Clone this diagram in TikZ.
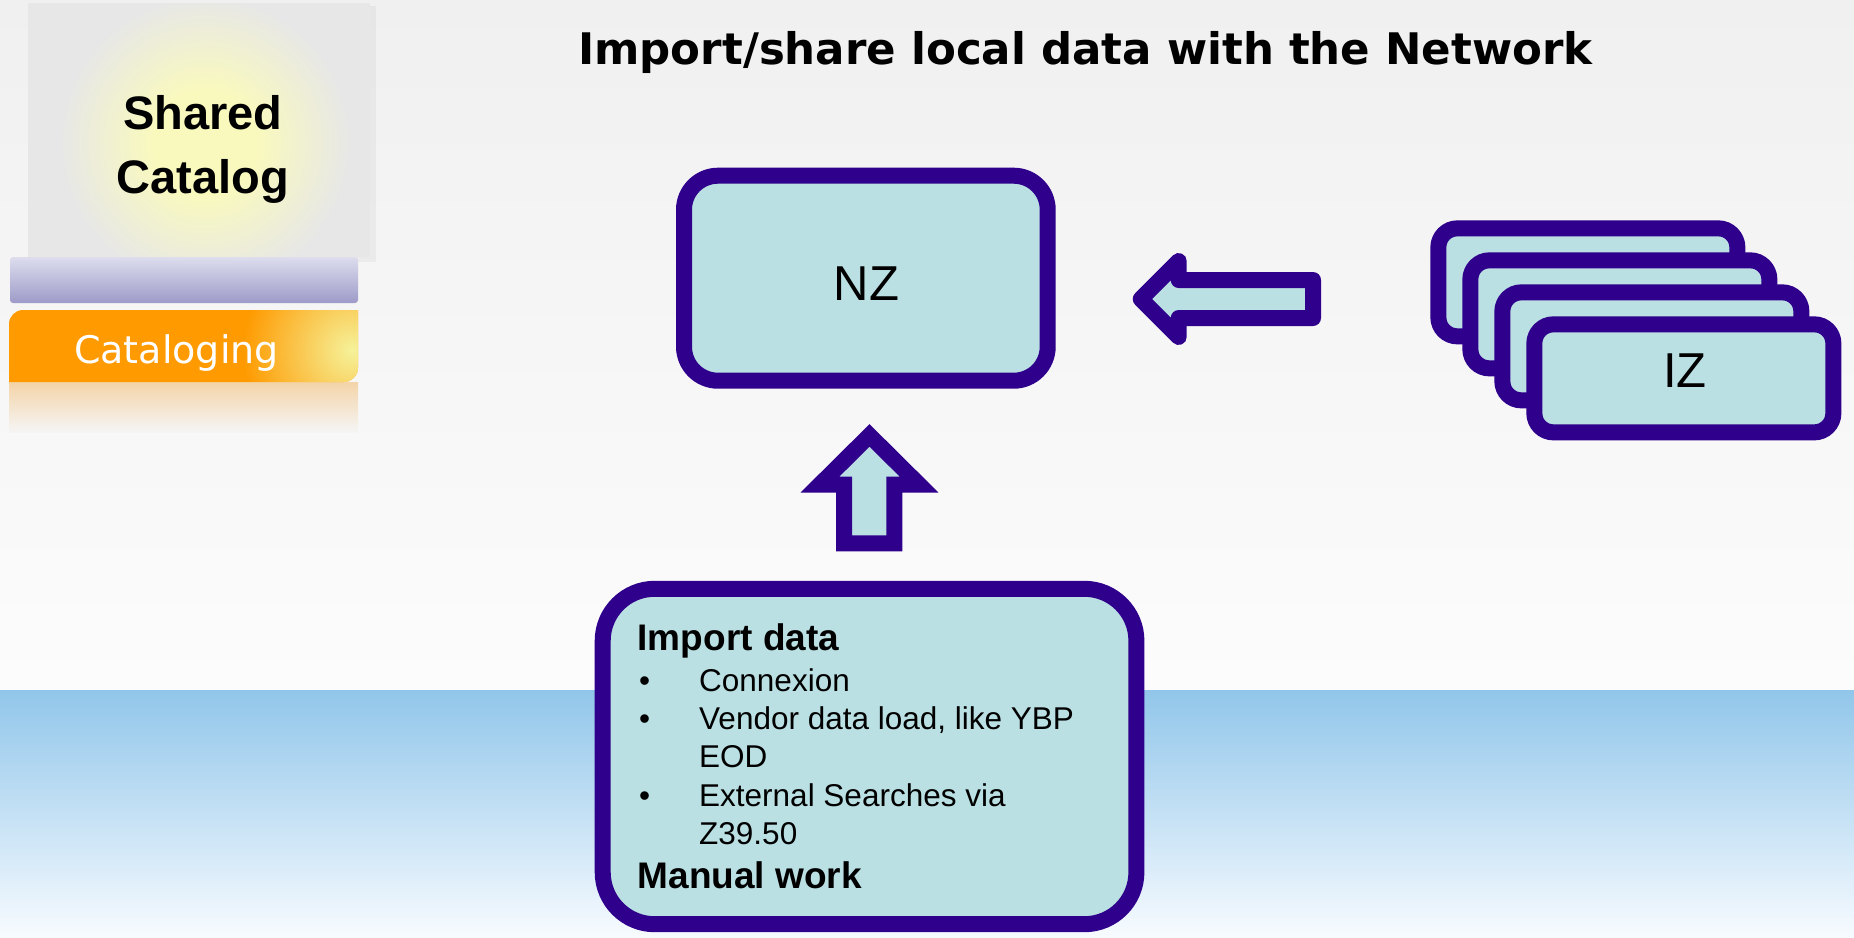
\documentclass[tikz,border=0pt]{standalone}
\usepackage{fontspec}
\setmainfont{Liberation Sans}
\newfontfamily\verd{DejaVu Sans}
\usetikzlibrary{fadings}
\tikzfading[name=glowfade, inner color=transparent!0, outer color=transparent!100]
\definecolor{zfill}{HTML}{BAE0E3}
\definecolor{zline}{HTML}{2E008C}
\definecolor{bgtop}{HTML}{F0F0F0}
\definecolor{bgbot}{HTML}{FCFCFC}
\definecolor{bltop}{HTML}{91C6EA}
\definecolor{blbot}{HTML}{F7FBFF}
\definecolor{logogray}{HTML}{E7E7E7}
\definecolor{glowc}{HTML}{F9F9BE}
\definecolor{lavtop}{HTML}{DDDDEE}
\definecolor{lavbot}{HTML}{9D9BC8}
\definecolor{omain}{HTML}{FF9A00}
\definecolor{odark}{HTML}{C86C00}
\definecolor{oglow}{HTML}{F6F29A}
\definecolor{refl}{HTML}{F4D4A8}
\pgfdeclareverticalshading{obar}{100bp}{color(0bp)=(odark); color(14bp)=(omain); color(86bp)=(omain); color(100bp)=(odark)}
\pgfdeclareradialshading{glowsh}{\pgfpoint{0bp}{0bp}}{color(0bp)=(glowc); color(9bp)=(glowc); color(25bp)=(logogray); color(50bp)=(logogray)}
\tikzset{
  zbox/.style={draw=zline, fill=zfill, line width=16pt, inner sep=0pt},
  blockarrow/.style={draw=zline, fill=zfill, line width=16pt},
  txt/.style={inner sep=0pt, anchor=base},
  txtw/.style={inner sep=0pt, anchor=base west},
  bodyfont/.style={font=\fontsize{31.5}{37}\selectfont},
  boldfont/.style={font=\bfseries\fontsize{37}{44}\selectfont},
  zfont/.style={font=\fontsize{49}{58}\selectfont},
}
\begin{document}
\begin{tikzpicture}[x=1pt,y=-1pt]
\useasboundingbox (0,0) rectangle (1854,937);
% background
\shade[top color=bgtop, bottom color=bgbot] (0,0) rectangle (1854,690);
\shade[top color=bltop, bottom color=blbot] (0,690) rectangle (1854,937);

% logo
\fill[black, opacity=0.04] (31,6) rectangle (376,262);
\fill[logogray] (28,3) rectangle (370,257);
\begin{scope}
  \clip (28,3) rectangle (370,257);
  \shade[shading=glowsh] (205,142) circle (145);
\end{scope}
\shade[top color=refl, bottom color=bgtop!60!bgbot] (9,382) rectangle (358,432);
\shade[top color=lavtop, bottom color=lavbot, rounded corners=3pt] (10,257) rectangle (358,303);
\shade[shading=obar] (9,382) -- (9,324) .. controls (9,316.3) and (15.3,310) .. (23,310) -- (358,310) -- (358,368) .. controls (358,375.7) and (351.7,382) .. (344,382) -- cycle;
\begin{scope}
  \clip (9,382) -- (9,324) .. controls (9,316.3) and (15.3,310) .. (23,310) -- (358,310) -- (358,368) .. controls (358,375.7) and (351.7,382) .. (344,382) -- cycle;
  \fill[oglow, path fading=glowfade] (352,350) circle (110);
\end{scope}
\node[txt, font=\bfseries\fontsize{47}{56}\selectfont] (shared) at (203,129) {Shared};
\node[txt, font=\bfseries\fontsize{47}{56}\selectfont] (catalog) at (203,193) {Catalog};
\node[txt, text=white, font=\verd\fontsize{38}{44}\selectfont] (cataloging) at (176.5,363) {Cataloging};

% title
\node[txt, font=\verd\bfseries\fontsize{43.5}{50}\selectfont] (title) at (1085.5,64) {Import/share local data with the Network};

% NZ
\node[zbox, rounded corners=34pt, minimum width=363.7pt, minimum height=205pt] (nz) at (865.85,278.2) {};
\node[txt, zfont] (nzt) at (866.5,300.7) {NZ};

% IZ stack
\foreach \i/\dx in {1/0,2/32,3/64,4/96}{
  \node[zbox, rounded corners=19pt, minimum width=299pt, minimum height=108pt] (iz\i) at (1587.85+\dx,282.35+\dx) {};
}
\node[txt, zfont] (izt) at (1685,387.3) {IZ};

% left block arrow (IZ -> NZ)
\draw[blockarrow, line join=round] (1140.7,299) -- (1178.7,261) -- (1178.7,280) -- (1313,280) -- (1313,318) -- (1178.7,318) -- (1178.7,337) -- cycle;

% up block arrow (import -> NZ)
\draw[blockarrow, line join=miter] (869.5,435.4) -- (919,484.5) -- (894.4,484.5) -- (894.4,543.4) -- (844.2,543.4) -- (844.2,484.5) -- (820,484.5) -- cycle;

% import box
\node[zbox, rounded corners=52pt, minimum width=533.7pt, minimum height=335.4pt] (imp) at (869.55,756.5) {};
\node[txtw, boldfont] (l1) at (637.5,650.7) {Import data};
\node[txtw, bodyfont] (b1) at (639,691.1) {\textbullet};
\node[txtw, bodyfont] (l2) at (699,691.1) {Connexion};
\node[txtw, bodyfont] (b2) at (639,729.2) {\textbullet};
\node[txtw, bodyfont] (l3) at (699,729.2) {Vendor data load, like YBP};
\node[txtw, bodyfont] (l4) at (699,767.6) {EOD};
\node[txtw, bodyfont] (b3) at (639,806.3) {\textbullet};
\node[txtw, bodyfont] (l5) at (699,806.3) {External Searches via};
\node[txtw, bodyfont] (l6) at (699,844.3) {Z39.50};
\node[txtw, boldfont] (l7) at (637.5,888) {Manual work};
\end{tikzpicture}
\end{document}
